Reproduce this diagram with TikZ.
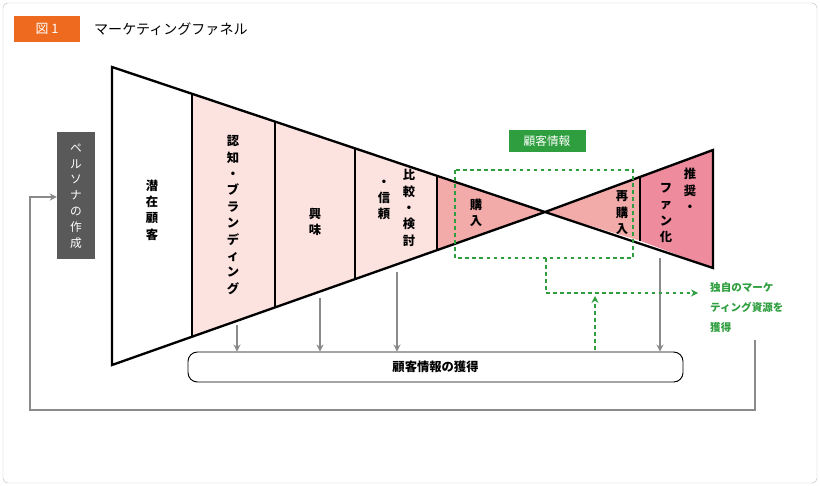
\documentclass[tikz,border=0pt]{standalone}
\usepackage{fontspec}
\setmainfont{Noto Sans CJK JP}
\usetikzlibrary{arrows.meta,positioning}
\definecolor{tagorange}{HTML}{EE6A1E}
\definecolor{pinklight}{HTML}{FCE3E0}
\definecolor{pinkmid}{HTML}{F3ABAA}
\definecolor{pinkdeep}{HTML}{EE8C9E}
\definecolor{funnelgreen}{HTML}{2E9E3E}
\definecolor{arrowgray}{HTML}{8A8A8A}
\tikzset{
  vtext/.style={align=center,inner sep=0pt,font=\bfseries\fontsize{10.5}{14}\selectfont},
  grayarrow/.style={draw=arrowgray,line width=0.9pt,-{Stealth[length=6pt,width=6pt]}},
  greenarrow/.style={draw=funnelgreen,line width=0.9pt,dashed,-{Stealth[length=6pt,width=6pt]}}
}
\begin{document}
\begin{tikzpicture}[x=0.03cm,y=-0.03cm]
	\useasboundingbox (0,0) rectangle (820,486);
	\draw[gray!50,rounded corners=4pt] (3,3) rectangle (817,483);
	% title
	\node[fill=tagorange,text=white,minimum width=66*0.03cm,minimum height=26*0.03cm,inner sep=0pt,font=\fontsize{11}{13}\selectfont] (tag) at (47,29) {図 1};
	\node[anchor=west,font=\fontsize{12}{14}\selectfont] (title) at (90,29) {マーケティングファネル};
	% funnel segments
	\fill[white] (112,67) -- (192,93.8) -- (192,336.8) -- (112,365) -- cycle;
	\fill[pinklight] (192,93.8) -- (437,175.9) -- (437,250.3) -- (192,336.8) -- cycle;
	\fill[pinkmid] (437,175.9) -- (545,212) -- (437,250.3) -- cycle;
	\fill[pinkmid] (545,212) -- (640,177.1) -- (640,240.8) -- cycle;
	\fill[pinkdeep] (640,177.1) -- (713,150) -- (713,268) -- (640,240.8) -- cycle;
	\draw[line width=2pt,line join=miter] (112,67) -- (545,212) -- (713,150) -- (713,268) -- (545,212) -- (112,365) -- cycle;
	\foreach \x/\t/\b in {192/93.8/336.8,275/121.6/307.5,355/148.4/279.2,437/175.9/250.3,640/177.1/240.8}
		\draw[line width=2pt] (\x,\t) -- (\x,\b);
	% labels
	\node[vtext] (latent) at (152,210) {潜\\在\\顧\\客};
	\node[vtext] (aware) at (233,215) {認\\知\\・\\ブ\\ラ\\ン\\デ\\ィ\\ン\\グ};
	\node[vtext] (interest) at (315,222) {興\\味};
	\node[vtext] (compare) at (409,208) {比\\較\\・\\検\\討};
	\node[vtext] (trust) at (384,200) {・\\信\\頼};
	\node[vtext] (buy) at (476,213) {購\\入};
	\node[vtext] (rebuy) at (622,213) {再\\購\\入};
	\node[vtext] (recommend) at (690,190) {推\\奨\\・};
	\node[vtext] (fan) at (666,213) {フ\\ァ\\ン\\化};
	% persona
	\node[fill=black!65,text=white,vtext,font=\fontsize{10}{13.5}\selectfont,minimum width=38*0.03cm,minimum height=127*0.03cm] (persona) at (76,196) {ペ\\ル\\ソ\\ナ\\の\\作\\成};
	% acquisition bar
	\node[draw,line width=0.8pt,rounded corners=8pt,minimum width=495*0.03cm,minimum height=30*0.03cm,font=\bfseries\fontsize{10.5}{12}\selectfont] (gain) at (435.5,367) {顧客情報の獲得};
	% gray arrows
	\coordinate (a1) at (237,325);
	\coordinate (a2) at (320,298);
	\coordinate (a3) at (397,272);
	\coordinate (a4) at (660,258);
	\draw[grayarrow] (a1) -- (a1 |- gain.north);
	\draw[grayarrow] (a2) -- (a2 |- gain.north);
	\draw[grayarrow] (a3) -- (a3 |- gain.north);
	\draw[grayarrow] (a4) -- (a4 |- gain.north);
	% customer info
	\draw[funnelgreen,dashed,line width=1pt] (455,170) rectangle (633,258);
	\node[fill=funnelgreen,text=white,minimum width=77*0.03cm,minimum height=22*0.03cm,inner sep=0pt,font=\fontsize{10}{12}\selectfont] (info) at (547,141) {顧客情報};
	\node[text=funnelgreen,align=left,anchor=north west,inner sep=0pt,font=\bfseries\fontsize{9}{17}\selectfont] (resource) at (710,282) {独自のマーケ\\ティング資源を\\獲得};
	\coordinate (g1) at (546,258);
	\coordinate (g2) at (546,293);
	\draw[greenarrow] (g1) -- (g2) -- (698,293);
	\coordinate (g3) at (595,350);
	\draw[greenarrow] (g3) -- (595,296);
	% loop back
	\coordinate (l1) at (755,340);
	\draw[grayarrow] (l1) -- (755,410) -- (30,410) -- (30,197) -- (persona.west |- 0,197);
\end{tikzpicture}
\end{document}
